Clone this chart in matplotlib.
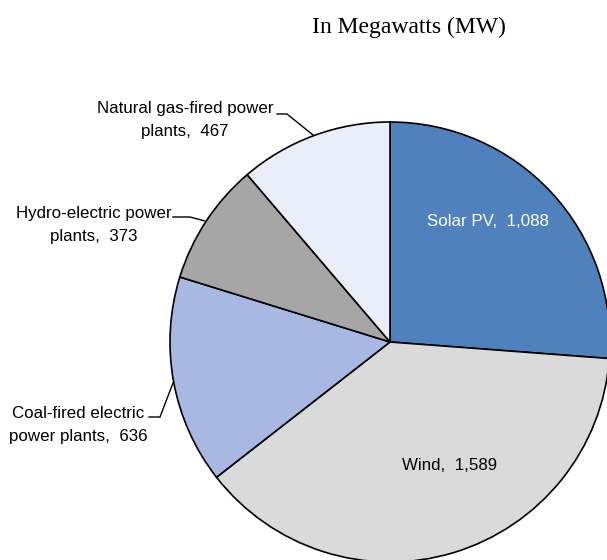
import matplotlib
matplotlib.use("Agg")
import matplotlib.pyplot as plt
import numpy as np

# data
labels = ["Solar PV", "Wind", "Coal-fired electric\npower plants",
          "Hydro-electric power\nplants", "Natural gas-fired power\nplants"]
values = [1088, 1589, 636, 373, 467]
colors = ["#4F81BD", "#DADADA", "#A7B8E3", "#A6A6A6", "#EAEEF8"]

plt.rcParams["font.family"] = ["Liberation Sans", "DejaVu Sans"]

W, H = 607, 560
fig = plt.figure(figsize=(W / 100, H / 100), dpi=100)

# pie centre (390, 342) px, radius 220 px
cx, cy, r = 390, 342, 220
ax = fig.add_axes([(cx - r) / W, (H - cy - r) / H, 2 * r / W, 2 * r / H])

wedges, _ = ax.pie(values, colors=colors, startangle=90, counterclock=False,
                   radius=1.0, wedgeprops=dict(edgecolor="black", linewidth=1.2))
for w in wedges:
    w.set_clip_on(False)
ax.set_xlim(-1, 1)
ax.set_ylim(-1, 1)
ax.set_aspect("equal")
ax.axis("off")

def px(x, y):
    # pixel -> data coords of the pie axes
    return ((x - cx) / r, (cy - y) / r)

def fmt(v):
    return f"{v:,}"

fs = 12.2
# inside labels
ax.text(*px(488, 222), f"{labels[0]},  {fmt(values[0])}", color="white",
        ha="center", va="center", fontsize=fs)
ax.text(*px(449, 466), f"{labels[1]},  {fmt(values[1])}", color="black",
        ha="center", va="center", fontsize=fs)

# outside labels with leader lines
outside = [
    (2, (78, 425), [(149, 417), (160, 417), (173, 383)]),
    (3, (94, 225), [(173, 217), (190, 217), (205, 221)]),
    (4, (185, 120), [(277, 114), (287, 114), (313, 135)]),
]
for i, (tx, ty), pts in outside:
    ax.text(*px(tx, ty), f"{labels[i]},  {fmt(values[i])}", ha="center",
            va="center", fontsize=fs, linespacing=1.6, clip_on=False)
    xs, ys = zip(*[px(a, b) for a, b in pts])
    ax.plot(xs, ys, color="black", lw=1.0, clip_on=False)

fig.text(409 / W, 1 - 27 / H, "In Megawatts (MW)", family="Liberation Serif",
         fontsize=17, ha="center", va="center")

fig.savefig("out.png", dpi=100)
